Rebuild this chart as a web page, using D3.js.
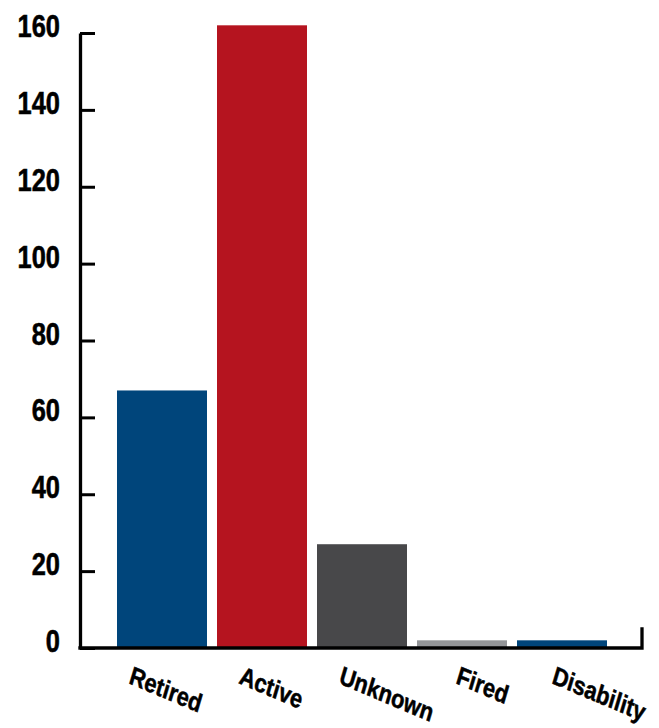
<!DOCTYPE html>
<html>
<head>
<meta charset="utf-8">
<script src="https://cdn.jsdelivr.net/npm/d3@7"></script>
<style>
  html, body { margin: 0; padding: 0; background: #ffffff; }
  svg { display: block; }
</style>
</head>
<body>
<script>
// ---- data ----
const categories = ["Retired", "Active", "Unknown", "Fired", "Disability"];
const values = [67, 162, 27, 2, 2];
const barColors = ["#00457b", "#b5141f", "#48484a", "#939598", "#00457b"];
const yTicks = [0, 20, 40, 60, 80, 100, 120, 140, 160];

// ---- layout ----
const W = 659, H = 728;
const font = "'Liberation Sans', Arial, sans-serif";
const labelDx = [11, 21, 21, 38, 34]; // per-label nudge from band start

const svg = d3.select("body").append("svg").attr("width", W).attr("height", H);

const x = d3.scaleBand().domain(categories).range([112, 612])
  .paddingInner(0.1).paddingOuter(0.05);
const y = d3.scaleLinear().domain([0, 160]).range([648, 33]);

// bars
svg.append("g").selectAll("rect").data(categories).join("rect")
  .attr("x", d => x(d))
  .attr("width", x.bandwidth())
  .attr("y", (d, i) => y(values[i]))
  .attr("height", (d, i) => y(0) - y(values[i]))
  .attr("fill", (d, i) => barColors[i]);

// y axis (ticks inward)
const yAxis = svg.append("g").attr("transform", "translate(80,0)")
  .call(d3.axisLeft(y).tickValues(yTicks).tickSize(-15).tickSizeOuter(0).tickFormat(""));
yAxis.select(".domain").attr("stroke", "#000").attr("stroke-width", 3.3);
yAxis.selectAll(".tick line").attr("stroke", "#000").attr("stroke-width", 3);

// y labels
svg.append("g").selectAll("text").data(yTicks).join("text")
  .attr("transform", d => `translate(60,${y(d) + 4}) scale(0.82,1)`)
  .attr("text-anchor", "end")
  .attr("font-family", font)
  .attr("font-weight", "bold")
  .attr("font-size", 31)
  .attr("fill", "#000")
  .attr("stroke", "#000")
  .attr("stroke-width", 0.6)
  .text(d => d);

// x axis baseline with right end tick
const xEnd = 642;
svg.append("path")
  .attr("d", d3.line()([[80, y(0)], [xEnd, y(0)], [xEnd, y(0) - 19]]))
  .attr("fill", "none")
  .attr("stroke", "#000")
  .attr("stroke-width", 3.3)
  .attr("stroke-linejoin", "miter")
  .attr("stroke-linecap", "square");

// x labels, rotated
svg.append("g").selectAll("text").data(categories).join("text")
  .attr("transform", (d, i) => `translate(${x(d) + labelDx[i]},683) scale(0.84,1) rotate(19.5)`)
  .attr("text-anchor", "start")
  .attr("font-family", font)
  .attr("font-weight", "bold")
  .attr("font-size", 26)
  .attr("fill", "#000")
  .attr("stroke", "#000")
  .attr("stroke-width", 0.5)
  .text(d => d);
</script>
</body>
</html>
